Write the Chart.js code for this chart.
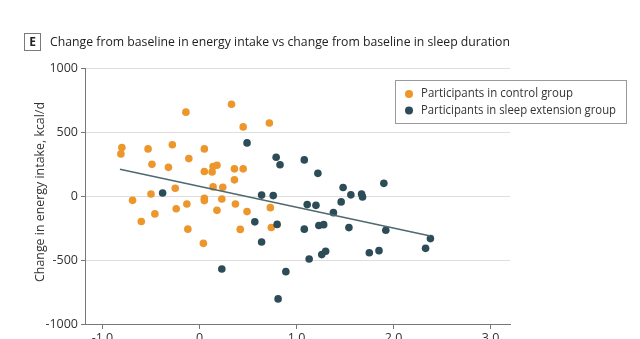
<!DOCTYPE html>
<html>
<head>
<meta charset="utf-8">
<script src="https://cdn.jsdelivr.net/npm/chart.js@4.4.1/dist/chart.umd.min.js"></script>
<style>
    html, body { margin: 0; padding: 0; background: #fff; overflow: hidden; }
    #wrap { position: relative; width: 640px; height: 360px; }
</style>
</head>
<body>
<div id="wrap"><canvas id="energy-sleep-chart" width="640" height="360"></canvas></div>
<script>
var panelLetter = "E";
var chartTitle = "Change from baseline in energy intake vs change from baseline in sleep duration";
var yTitle = "Change in energy intake, kcal/d";
var seriesNames = ["Participants in control group", "Participants in sleep extension group"];

// change in sleep duration (h) / change in energy intake (kcal/d)
var controlX = [-0.14, 0.33, 0.45, 0.72, -0.80, -0.81, -0.53, -0.28, 0.05, -0.49,
    -0.32, -0.11, 0.05, 0.13, 0.14, 0.18, 0.36, 0.45, 0.36, -0.25,
    0.14, 0.24, -0.69, -0.50, 0.05, 0.05, 0.23, -0.13, -0.24, 0.37,
    0.18, 0.49, 0.73, -0.46, -0.60, -0.12, 0.42, 0.74, 0.04];
var controlY = [655, 717, 540, 570, 378, 329, 368, 400, 368, 248,
    224, 292, 191, 188, 230, 240, 212, 212, 126, 60,
    71, 68, -34, 16, -18, -36, -24, -63, -100, -63,
    -112, -122, -91, -140, -199, -259, -261, -246, -370];

var sleepX = [-0.38, 0.49, 0.79, 0.83, 0.64, 0.76, 0.57, 0.80, 1.08, 1.22,
    1.48, 1.56, 1.67, 1.68, 1.90, 1.11, 1.20, 1.46, 1.38, 1.08,
    1.23, 1.28, 1.54, 1.92, 0.64, 2.38, 2.33, 1.75, 1.85, 1.13,
    1.26, 1.30, 0.89, 0.81, 0.23];
var sleepY = [24, 415, 303, 244, 7, 3, -202, -222, 282, 177,
    66, 9, 16, -7, 99, -67, -73, -46, -130, -259,
    -231, -224, -247, -268, -359, -333, -409, -443, -427, -492,
    -458, -432, -591, -804, -570];

var trendX = [-0.82, 2.38];
var trendY = [209, -312];

var xTicks = [-1, 0, 1, 2, 3];
var xTickLabels = ["-1.0", "0", "1.0", "2.0", "3.0"];
var yTicks = [-1000, -500, 0, 500, 1000];
var yTickLabels = ["-1000", "-500", "0", "500", "1000"];

var orange = "#ec962c";
var slate = "#2c4c57";

function toPoints(xs, ys) {
    var pts = [];
    for (var i = 0; i < xs.length; i++) {
        pts.push({ x: xs[i], y: ys[i] });
    }
    return pts;
}

// squeeze text to a given width, the figure uses a condensed face
function drawNarrow(ctx, text, x, y, font, width) {
    ctx.font = font;
    var w = ctx.measureText(text).width;
    ctx.save();
    ctx.translate(x, y);
    ctx.scale(width / w, 1);
    ctx.textAlign = "left";
    ctx.textBaseline = "middle";
    ctx.fillText(text, 0, 0);
    ctx.restore();
}

var figureText = {
    id: "figureText",
    afterDraw: function (chart) {
        var ctx = chart.ctx;
        ctx.save();
        // panel letter
        ctx.strokeStyle = "#7a7a7a";
        ctx.lineWidth = 1;
        ctx.strokeRect(24.5, 33.5, 16, 17);
        ctx.fillStyle = "#222";
        ctx.font = "bold 12px 'Open Sans'";
        ctx.textAlign = "center";
        ctx.textBaseline = "middle";
        ctx.fillText(panelLetter, 32.5, 42.5);
        // title
        ctx.fillStyle = "#222";
        drawNarrow(ctx, chartTitle, 50, 42, "13.5px 'Open Sans'", 460);

        // y axis title
        ctx.save();
        ctx.translate(40, 282);
        ctx.rotate(-Math.PI / 2);
        ctx.fillStyle = "#333";
        drawNarrow(ctx, yTitle, 0, 0, "13px 'Open Sans'", 180);
        ctx.restore();

        // legend
        ctx.strokeStyle = "#9a9a9a";
        ctx.strokeRect(395.5, 80.5, 231, 43);
        var colors = [orange, slate];
        var rows = [94, 110.5];
        var widths = [152, 195];
        for (var i = 0; i < seriesNames.length; i++) {
            ctx.fillStyle = colors[i];
            ctx.beginPath();
            ctx.arc(409, rows[i], 4, 0, Math.PI * 2);
            ctx.fill();
            ctx.fillStyle = "#333";
            drawNarrow(ctx, seriesNames[i], 421, rows[i], "12px 'Open Sans'", widths[i]);
        }
        ctx.restore();
    }
};

var ctx = document.getElementById("energy-sleep-chart").getContext("2d");
var chart = new Chart(ctx, {
    type: "scatter",
    data: {
        datasets: [
            {
                type: "line",
                label: "trend",
                data: toPoints(trendX, trendY),
                borderColor: "#4f6872",
                borderWidth: 1.5,
                pointRadius: 0,
                fill: false,
                order: 0
            },
            {
                label: seriesNames[1],
                data: toPoints(sleepX, sleepY),
                backgroundColor: slate,
                borderWidth: 0,
                pointRadius: 3.8,
                order: 1
            },
            {
                label: seriesNames[0],
                data: toPoints(controlX, controlY),
                backgroundColor: orange,
                borderWidth: 0,
                pointRadius: 3.8,
                order: 2
            }
        ]
    },
    options: {
        responsive: false,
        animation: false,
        devicePixelRatio: 1,
        layout: { padding: { top: 68, right: 130, left: 0, bottom: 0 } },
        plugins: {
            legend: { display: false },
            tooltip: { enabled: false }
        },
        scales: {
            x: {
                type: "linear",
                min: -1.18,
                max: 3.2,
                afterBuildTicks: function (scale) {
                    scale.ticks = xTicks.map(function (v) { return { value: v }; });
                },
                afterFit: function (scale) { scale.height = 36; },
                grid: { drawOnChartArea: false, tickLength: 5, tickColor: "#777" },
                border: { color: "#777" },
                ticks: {
                    autoSkip: false,
                    maxRotation: 0,
                    padding: 2,
                    color: "#333",
                    font: { family: "'Open Sans'", size: 12.5 },
                    callback: function (value) {
                        var i = xTicks.indexOf(value);
                        return i >= 0 ? xTickLabels[i] : "";
                    }
                }
            },
            y: {
                min: -1000,
                max: 1000,
                afterBuildTicks: function (scale) {
                    scale.ticks = yTicks.map(function (v) { return { value: v }; });
                },
                afterFit: function (scale) { scale.width = 85; },
                grid: { color: "#dedede", tickLength: 4, tickColor: "#777" },
                border: { color: "#777" },
                ticks: {
                    padding: 3,
                    color: "#333",
                    font: { family: "'Open Sans'", size: 12.5 },
                    callback: function (value) {
                        var i = yTicks.indexOf(value);
                        return i >= 0 ? yTickLabels[i] : "";
                    }
                }
            }
        }
    },
    plugins: [figureText]
});
</script>
</body>
</html>
